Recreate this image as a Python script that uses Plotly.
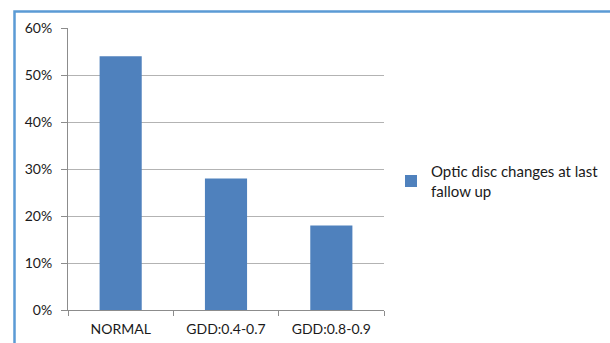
import plotly.graph_objects as go

categories = ["NORMAL", "GDD:0.4-0.7", "GDD:0.8-0.9"]
values = [0.54, 0.28, 0.18]
series_name = "Optic disc changes at last<br>fallow up"
y_ticks = [0, 0.1, 0.2, 0.3, 0.4, 0.5, 0.6]
y_tick_labels = ["0%", "10%", "20%", "30%", "40%", "50%", "60%"]

W, H = 610, 343
L, R, T, B = 68, 226, 28, 33
pw, ph = W - L - R, H - T - B

def px_x(x):
    return (x - L) / pw

def px_y(y):
    return (H - B - y) / ph

font = "Lato, Open Sans, Liberation Sans, Arial, sans-serif"
txt = "#1a1a1a"

fig = go.Figure()
fig.add_trace(go.Bar(
    x=categories, y=values, name=series_name,
    marker=dict(color="#4F81BD", line=dict(width=0)),
    showlegend=True,
))

fig.update_layout(
    width=W, height=H,
    margin=dict(l=L, r=R, t=T, b=B, pad=0, autoexpand=False),
    paper_bgcolor="white", plot_bgcolor="white",
    bargap=0.6,
    font=dict(family=font, size=14, color=txt),
    showlegend=True,
    legend=dict(
        x=px_x(391), y=px_y(155), xanchor="left", yanchor="top",
        font=dict(family=font, size=15, color=txt),
        bgcolor="rgba(0,0,0,0)", borderwidth=0,
        tracegroupgap=0,
    ),
    xaxis=dict(
        type="category",
        automargin=False,
        showgrid=False,
        showline=True, linecolor="#8c8c8c", linewidth=1,
        ticks="outside", ticklen=5, tickcolor="#8c8c8c",
        tickson="boundaries",
        ticklabelstandoff=6,
        tickfont=dict(family=font, size=14, color=txt),
        fixedrange=True,
    ),
    yaxis=dict(
        range=[0, 0.6],
        automargin=False,
        tickvals=y_ticks, ticktext=y_tick_labels,
        showgrid=True, gridcolor="#b3b3b3", gridwidth=1,
        showline=True, linecolor="#8c8c8c", linewidth=1,
        ticks="outside", ticklen=6, tickcolor="#8c8c8c",
        ticklabelstandoff=6,
        tickfont=dict(family=font, size=14, color=txt),
        zeroline=False,
        fixedrange=True,
    ),
    shapes=[dict(
        type="rect", xref="paper", yref="paper",
        x0=px_x(14.5), x1=px_x(700), y0=px_y(400), y1=px_y(11.5),
        line=dict(color="#5B9BD5", width=2.5), fillcolor="rgba(0,0,0,0)",
        layer="below",
    )],
)

fig.write_html("out.html", config={"displayModeBar": False},
               post_script="document.body.style.margin='0';")
